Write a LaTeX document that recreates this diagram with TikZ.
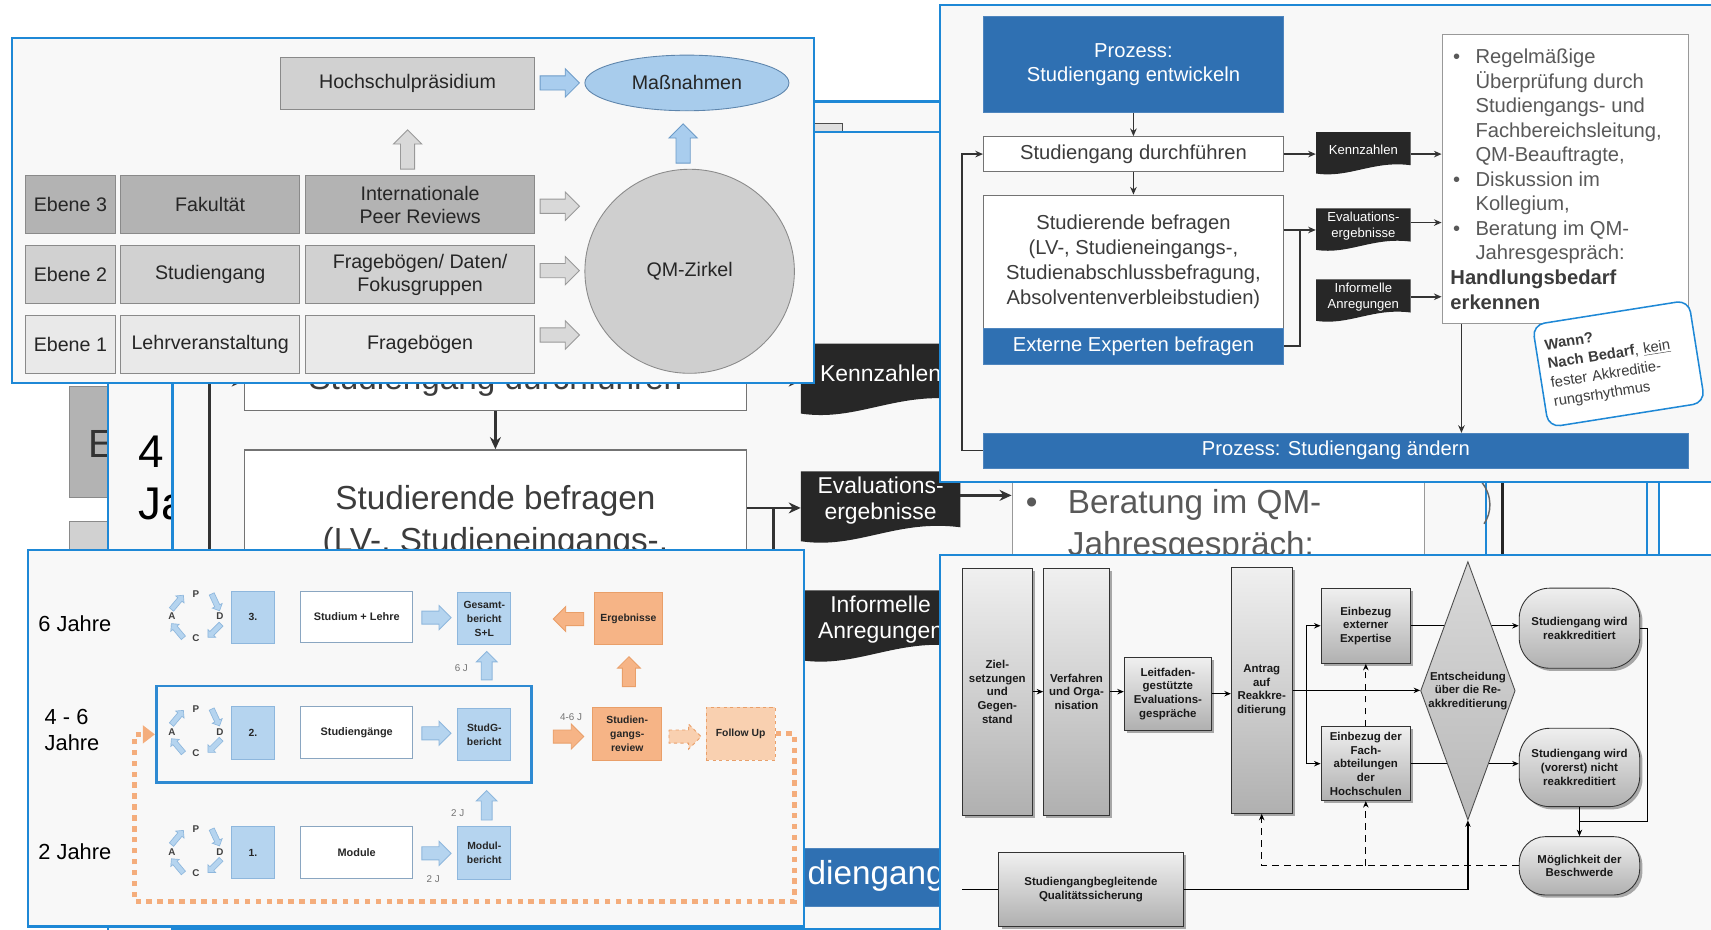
\documentclass[tikz,border=0pt]{standalone}
\usepackage{fontspec}
\setmainfont{Liberation Sans}
\usetikzlibrary{shapes.geometric,arrows.meta,calc,shadows}
\definecolor{framebl}{HTML}{1E88D6}
\definecolor{panelbg}{HTML}{F8F8F8}
\definecolor{gdark}{HTML}{B3B3B3}
\definecolor{gmid}{HTML}{D1D1D1}
\definecolor{glight}{HTML}{E9E9E9}
\definecolor{gborder}{HTML}{8A8A8A}
\definecolor{txtA}{HTML}{262626}
\definecolor{ellfill}{HTML}{A8CCEC}
\definecolor{ellbd}{HTML}{5E85AC}
\definecolor{abfill}{HTML}{A9CDEE}
\definecolor{abdraw}{HTML}{6C9BC8}
\definecolor{procbl}{HTML}{2F70B2}
\definecolor{tagc}{HTML}{272727}
\definecolor{txtB}{HTML}{3C3C3C}
\definecolor{txtL}{HTML}{595959}
\definecolor{lbfill}{HTML}{B5D4EF}
\definecolor{lbdraw}{HTML}{8EB7DD}
\definecolor{orfill}{HTML}{F6B486}
\definecolor{ordraw}{HTML}{E99F69}
\definecolor{orlight}{HTML}{F9D0B0}
\definecolor{ordot}{HTML}{F4AD7C}
\definecolor{rowframe}{HTML}{2E8AD2}
\newcommand{\myfs}[2]{\fontsize{#1}{#2}\selectfont}
% block arrow: style, cx, cy, angle, length, shaft width, head width
\newcommand{\mybarrow}[7]{%
  \begin{scope}[shift={({#2},{#3})},rotate=#4]
    \filldraw[#1] ({-(#5)/2},{-(#6)/2}) -- ({(#5)/2-(#7)/2},{-(#6)/2}) -- ({(#5)/2-(#7)/2},{-(#7)/2}) -- ({(#5)/2},0) -- ({(#5)/2-(#7)/2},{(#7)/2}) -- ({(#5)/2-(#7)/2},{(#6)/2}) -- ({-(#5)/2},{(#6)/2}) -- cycle;
  \end{scope}}
% document tag: name, x0, y0, w, h, font, text
\newcommand{\mytagbox}[7]{%
  \fill[tagc] (#2,#3) -- ({#2+#4},#3) -- ({#2+#4},{#3+0.8*#5}) .. controls ({#2+0.6*#4},{#3+0.68*#5}) and ({#2+0.35*#4},{#3+1.12*#5}) .. (#2,{#3+#5}) -- cycle;
  \node[tagtxt, font=#6, minimum width=#4, minimum height={0.84*#5}] (#1) at ({#2+#4/2},{#3+0.42*#5}) {#7};}
% PDCA cycle: name, cx, cy
\newcommand{\mypdca}[3]{%
  \node[pdcal] (#1p) at (#2,{#3-21}) {P};
  \node[pdcal] (#1d) at ({#2+22},#3) {D};
  \node[pdcal] (#1c) at (#2,{#3+20}) {C};
  \node[pdcal] (#1a) at ({#2-22},#3) {A};
  \mybarrow{pdarr}{#2-17}{#3-13}{50}{17}{5}{10}
  \mybarrow{pdarr}{#2+18}{#3-13}{-65}{17}{5}{10}
  \mybarrow{pdarr}{#2+17}{#3+13}{-135}{17}{5}{10}
  \mybarrow{pdarr}{#2-17}{#3+13}{130}{17}{5}{10}}
\tikzset{
 panel/.style={draw=framebl, line width=2pt, fill=panelbg},
 abox/.style={draw=gborder, line width=0.8pt, inner sep=0pt, align=center, text=txtA, font=\myfs{18}{21}},
 garrow/.style={fill=gray!30, draw=gray!80, line width=0.8pt},
 bluearr/.style={fill=abfill, draw=abdraw, line width=0.8pt},
 procbox/.style={fill=procbl, draw=procbl!85!white, line width=0.6pt, text=white, inner sep=0pt, align=center, font=\myfs{18.5}{22}},
 wbox/.style={fill=white, draw=black!55, line width=0.8pt, inner sep=0pt, align=center, text=txtB, font=\myfs{18.5}{22.9}},
 tagtxt/.style={inner sep=0pt, text=white, align=center},
 farr/.style={draw=black!80, line width=1.5pt, -{Stealth[length=7pt,width=6pt]}},
 fline/.style={draw=black!80, line width=1.5pt},
 bgwbox/.style={fill=white, draw=black!55, line width=1.3pt, inner sep=0pt, align=center, text=txtB, font=\myfs{30.5}{38.3}},
 bgtxt/.style={inner sep=0pt, text=txtB, font=\myfs{30.5}{38.3}},
 bgarr/.style={draw=black!80, line width=2.5pt, -{Stealth[length=11pt,width=10pt]}},
 bgline/.style={draw=black!80, line width=2.5pt},
 numbox/.style={fill=lbfill, draw=lbdraw, line width=0.8pt, inner sep=0pt, align=center, text=black!85, font=\bfseries\myfs{9.5}{12.7}},
 cwbox/.style={fill=white, draw=lbdraw!70!gray, line width=0.8pt, inner sep=0pt, align=center, text=black!85, font=\bfseries\myfs{10}{12}},
 orbox/.style={fill=orfill, draw=ordraw, line width=0.8pt, inner sep=0pt, align=center, text=black!85, font=\bfseries\myfs{9.5}{12.7}},
 lbarr/.style={fill=lbfill, draw=lbdraw, line width=0.8pt},
 orarr/.style={fill=orfill, draw=ordraw, line width=0.8pt},
 ordash/.style={fill=orlight, draw=ordraw, line width=0.8pt, dashed},
 pdarr/.style={fill=lbfill, draw=lbdraw, line width=0.6pt},
 pdcal/.style={inner sep=0pt, font=\bfseries\myfs{9}{10}, text=black!75},
 jlab/.style={inner sep=0pt, font=\myfs{20}{24.4}, text=black, align=left},
 smlab/.style={inner sep=0pt, font=\myfs{9}{10}, text=black!55},
 dotloop/.style={draw=ordot, line width=5pt, dash pattern=on 5pt off 5pt, -{Triangle[width=16pt,length=11pt]}},
 dbox/.style={draw=black!80, line width=0.8pt, top color=gray!12, bottom color=gray!62, inner sep=0pt, align=center, text=black!90, font=\bfseries\myfs{10.5}{12.5}, drop shadow={shadow xshift=2.5pt, shadow yshift=-2.5pt, fill=black!60, opacity=0.55}},
 darr/.style={draw=black, line width=1.1pt, -{Stealth[length=6pt,width=5pt]}},
 dline/.style={draw=black, line width=1.1pt},
 ddash/.style={draw=black, line width=1.1pt, dash pattern=on 6pt off 5pt, -{Stealth[length=6pt,width=5pt]}},
}
\begin{document}
\begin{tikzpicture}[x=1pt,y=-1pt]
\useasboundingbox (0,0) rectangle (1568,852);
\clip (0,0) rectangle (1568,852);
\fill[white] (0,0) rectangle (1568,852);

% ================= background collage layers =================
\node[draw=gborder, line width=1.2pt, fill=gdark, minimum width=60, minimum height=102, inner sep=0] (bgE) at (94,405) {};
\node[anchor=west, font=\myfs{36}{40}, text=black!80, inner sep=0] (bgEt) at (81,407) {E};
\node[draw=gborder, line width=1.2pt, fill=gmid, minimum width=60, minimum height=60, inner sep=0] (bgE2) at (94,508) {};
\fill[panelbg] (99,93) rectangle (1509,852);
\node[anchor=west, font=\myfs{42}{48}, inner sep=0] (bg4) at (127,414) {4};
\node[anchor=west, font=\myfs{42}{48}, inner sep=0] (bgJa) at (127,462) {Ja};
\node[draw=black!70, line width=1.2pt, fill=gray!25, minimum width=60, minimum height=30, inner sep=0] (bgcorner) at (742,128) {};
\fill[panelbg] (158,121) rectangle (1520,852);

\node[bgwbox, minimum width=460, minimum height=53.7] (bgdurch) at (454,349.2) {Studiengang durchführen};
\node[bgwbox, minimum width=460, minimum height=204.5] (bgbefr) at (454,514.5) {};
\node[bgtxt] (bgbefrt1) at (454,459) {Studierende befragen};
\node[bgtxt] (bgbefrt2) at (454,497.5) {(LV-, Studieneingangs-,};
\mytagbox{bgkenn}{734}{315}{146}{64}{\myfs{21}{24}}{Kennzahlen}
\mytagbox{bgeval}{734}{432}{146}{64}{\myfs{21}{24}}{Evaluations-\\ergebnisse}
\mytagbox{bginfo}{734}{541}{146}{64}{\myfs{21}{24}}{Informelle\\Anregungen}
\node[draw=gray!80, line width=1.2pt, fill=white, minimum width=378, minimum height=443.6, inner sep=0] (bghand) at (1116.6,386.8) {};
\node[anchor=west, font=\myfs{30.5}{36}, text=txtL, inner sep=0] (bgb1) at (940,463) {•};
\node[anchor=west, font=\myfs{30.5}{36}, text=txtL, inner sep=0] (bgb2) at (978.5,463) {Beratung im QM-};
\node[anchor=west, font=\myfs{30.5}{36}, text=txtL, inner sep=0] (bgb3) at (978.5,501) {Jahresgespräch:};
\node[procbox, minimum width=1081.4, minimum height=54] (bgaend) at (764.7,804) {};
\node[anchor=west, inner sep=0, text=white, font=\myfs{30.5}{36}] (bgaendt) at (740,803) {diengang};

\draw[bgarr] (bgdurch.south) -- (bgbefr.north);
\draw[bgarr] (bgdurch.east) -- (bgdurch.east -| bgkenn.west);
\coordinate (bgevin) at ([yshift=-6.6pt]bgeval.west);
\coordinate (bgevout) at ([yshift=4.9pt]bgeval.east);
\coordinate (bgbrk) at (684,644);
\draw[bgline] (bgevin -| bgbefr.east) -- ++(25,0);
\draw[bgarr] (bgbrk) -- ++(24.8,0) |- (bgevin);
\draw[bgarr] (bgkenn.east |- bgdurch.east) -- (bgdurch.east -| bghand.west);
\draw[bgarr] (bgevout) -- (bgevout -| bghand.west);
\draw[bgarr] (bginfo.east) -- (bginfo.east -| bghand.west);
\draw[bgarr] (bgaend.west) -- ++(-31.8,0) |- (bgdurch.west);

\draw[framebl, line width=2pt] (99,93) rectangle (1509,900);
\draw[framebl, line width=2pt] (158,121) rectangle (1520,851);
\draw[framebl, line width=1.5pt] (1362,430) -- (1362,520);
\draw[black!85, line width=2.5pt] (1377,430) -- (1377,520);
\draw[black!60, line width=1.3pt] (1358,442) .. controls (1368,455) and (1367,470) .. (1360,480);

% ================= Panel A =================
\draw[panel] (10.7,35) rectangle (745.7,350.7);
\node[abox, fill=gmid, minimum width=233, minimum height=47.5] (hoch) at (373.5,76.2) {Hochschulpräsidium};
\node[ellipse, draw=ellbd, fill=ellfill, line width=0.8pt, minimum width=187, minimum height=51, inner sep=0, font=\myfs{18}{21}, text=txtA] (mass) at (629.5,76) {Maßnahmen};
\mybarrow{bluearr}{513}{76}{0}{36}{13}{26}
\mybarrow{garrow}{373.5}{137}{90}{36}{13}{26}
\mybarrow{bluearr}{626}{131.5}{90}{36}{13}{26}
\node[abox, fill=gdark, minimum width=82.5, minimum height=53] (e3) at (64.5,187.5) {Ebene 3};
\node[abox, fill=gdark, minimum width=164, minimum height=53] (fak) at (192.6,187.5) {Fakultät};
\node[abox, fill=gdark, minimum width=210, minimum height=53] (ipr) at (385,187.5) {Internationale\\Peer Reviews};
\node[abox, fill=gmid, minimum width=82.5, minimum height=53] (e2) at (64.5,251.7) {Ebene 2};
\node[abox, fill=gmid, minimum width=164, minimum height=53] (stg) at (192.6,251.7) {Studiengang};
\node[abox, fill=gmid, minimum width=210, minimum height=53] (fdf) at (385,251.7) {Fragebögen/ Daten/\\Fokusgruppen};
\node[abox, fill=glight, minimum width=82.5, minimum height=53] (e1) at (64.5,315.8) {Ebene 1};
\node[abox, fill=glight, minimum width=164, minimum height=53] (lv) at (192.6,315.8) {Lehrveranstaltung};
\node[abox, fill=glight, minimum width=210, minimum height=53] (fb) at (385,315.8) {Fragebögen};
\mybarrow{garrow}{513}{189}{0}{36}{13}{26}
\mybarrow{garrow}{513}{248}{0}{36}{13}{26}
\mybarrow{garrow}{513}{307}{0}{36}{13}{26}
\node[ellipse, draw=gborder, fill=gray!38, line width=0.8pt, minimum width=192, minimum height=187, inner sep=0, font=\myfs{18}{21}, text=txtA] (qm) at (632,248.6) {QM-Zirkel};

% ================= Panel B =================
\draw[panel] (861.4,4.6) rectangle (1600,441.4);
\node[procbox, minimum width=275, minimum height=88] (entw) at (1038.7,59.2) {Prozess:\\Studiengang entwickeln};
\node[wbox, minimum width=275, minimum height=32.1] (durch) at (1038.7,141.2) {Studiengang durchführen};
\node[wbox, minimum width=275, minimum height=122.2] (befr) at (1038.7,239.8) {Studierende befragen\\(LV-, Studieneingangs-,\\Studienabschlussbefragung,\\Absolventenverbleibstudien)};
\node[procbox, minimum width=275, minimum height=32.7] (extb) at (1038.7,317.25) {Externe Experten befragen};
\mytagbox{kenn}{1206}{121}{86.8}{38}{\myfs{12}{14.5}}{Kennzahlen}
\mytagbox{evalb}{1206}{191}{86.8}{38}{\myfs{12}{14.5}}{Evaluations-\\ergebnisse}
\mytagbox{infob}{1206}{256}{86.8}{38}{\myfs{12}{14.5}}{Informelle\\Anregungen}
\node[draw=gray!80, line width=0.8pt, fill=white, minimum width=225.9, minimum height=265.1, inner sep=0] (hand) at (1434.45,163.75) {};
\node[anchor=north west, inner sep=0, font=\myfs{18.5}{22.5}, text=txtL] (handt) at (1329,42.3) {%
\begin{tabular}{@{\hspace{2.5pt}}p{20.5pt}@{}l@{}}
•&Regelmäßige\\
&Überprüfung durch\\
&Studiengangs- und\\
&Fachbereichsleitung,\\
&QM-Beauftragte,\\
•&Diskussion im\\
&Kollegium,\\
•&Beratung im QM-\\
&Jahresgespräch:\\
\multicolumn{2}{@{}l@{}}{\color{txtB}\bfseries Handlungsbedarf}\\
\multicolumn{2}{@{}l@{}}{\color{txtB}\bfseries erkennen}
\end{tabular}};
\node[procbox, minimum width=646.4, minimum height=32] (aend) at (1224.2,413) {Prozess: Studiengang ändern};

\draw[farr] (entw.south) -- (durch.north);
\draw[farr] (durch.south) -- (befr.north);
\draw[farr] (durch.east) -- (durch.east -| kenn.west);
\coordinate (evin) at ([yshift=-3.8pt]evalb.west);
\coordinate (evout) at ([yshift=3pt]evalb.east);
\draw[fline] (evin -| befr.east) -- ++(15,0);
\draw[farr] (extb.east) -- ++(14.7,0) |- (evin);
\draw[farr] (kenn.east |- durch.east) -- (durch.east -| hand.west);
\draw[farr] (evout) -- (evout -| hand.west);
\draw[farr] (infob.east) -- (infob.east -| hand.west);
\coordinate (hdown) at ([xshift=18.2pt]hand.south west);
\draw[farr] (hdown) -- (hdown |- aend.north);
\draw[farr] (aend.west) -- ++(-19,0) |- (durch.west);
\node[rotate=9, draw=framebl, line width=1.4pt, rounded corners=11pt, fill=white, minimum width=145, minimum height=95, text width=128, align=left, inner sep=6pt, font=\myfs{13.5}{17.5}, text=txtB] (wann) at (1483.3,333.4) {\textbf{Wann?}\\\textbf{Nach Bedarf}, \underline{kein}\\fester Akkreditie-\\rungsrhythmus};

% ================= Panel C =================
\draw[panel] (25.3,504) rectangle (737,849);
\node[jlab] (j6) at (68.6,571.3) {6 Jahre};
\node[jlab, anchor=west] (j46) at (40.8,669) {4 - 6\\Jahre};
\node[jlab] (j2) at (68.6,780.5) {2 Jahre};

\coordinate (lpA) at (728,826.3);
\coordinate (lpB) at (123.5,826.3);

\mypdca{pc3}{179.6}{565}
\mypdca{pc2}{179.6}{670.5}
\mypdca{pc1}{179.6}{780.5}

\node[numbox, minimum width=38.8, minimum height=48] (n3) at (231.8,565.6) {3.};
\node[numbox, minimum width=38.8, minimum height=48] (n2) at (231.8,671.5) {2.};
\node[numbox, minimum width=38.8, minimum height=48] (n1) at (231.8,781.3) {1.};
\node[cwbox, minimum width=102.8, minimum height=47.5] (sl) at (326.9,565.3) {Studium + Lehre};
\node[cwbox, minimum width=102.8, minimum height=47.5] (sg) at (326.9,671.5) {Studiengänge};
\node[cwbox, minimum width=102.8, minimum height=47.5] (md) at (326.9,781.3) {Module};
\mybarrow{lbarr}{400}{566}{0}{26.7}{12}{22}
\mybarrow{lbarr}{400}{672}{0}{26.7}{12}{22}
\mybarrow{lbarr}{400}{782}{0}{26.7}{12}{22}
\node[numbox, minimum width=48.5, minimum height=48] (gb) at (443.8,567) {Gesamt-\\bericht\\S+L};
\node[numbox, minimum width=48.5, minimum height=48] (sgb) at (443.8,673) {StudG-\\bericht};
\node[numbox, minimum width=48.5, minimum height=48] (mdb) at (443.8,781.8) {Modul-\\bericht};
\mybarrow{lbarr}{446}{610}{90}{26}{10}{19}
\mybarrow{lbarr}{446}{738}{90}{27}{10}{19}
\node[smlab] (l6j) at (422.8,612.5) {6 J};
\node[smlab] (l2ja) at (419.5,744.8) {2 J};
\node[smlab] (l2jb) at (397,806) {2 J};

\node[orbox, minimum width=63.1, minimum height=48] (erg) at (575.9,567) {Ergebnisse};
\node[orbox, minimum width=63.5, minimum height=48.5] (rev) at (574.8,672.3) {Studien-\\gangs-\\review};
\node[orbox, fill=orlight, dashed, minimum width=63.3, minimum height=48.5] (fu) at (678.7,672.3) {Follow Up};
\mybarrow{orarr}{521}{567.3}{180}{28}{12}{23}
\mybarrow{orarr}{576.4}{615.5}{90}{27.5}{12}{21}
\mybarrow{orarr}{521}{675}{0}{28}{12}{23}
\node[smlab] (l46) at (523.3,656.8) {4-6 J};
\mybarrow{ordash}{627.8}{675}{0}{29.5}{12}{23}

\node[draw=rowframe, line width=2.5pt, minimum width=343.6, minimum height=88.6, inner sep=0] (r2f) at (315,673) {};
\draw[dotloop] (fu.east) -| (lpA) -- (lpB) |- (r2f.west);

% ================= Panel D =================
\draw[panel] (861.4,508.6) rectangle (1600,880);
\node[dbox, minimum width=63.9, minimum height=226.1] (ziel) at (913.95,633.85) {Ziel-\\setzungen\\und\\Gegen-\\stand};
\node[dbox, minimum width=60.2, minimum height=226.1] (verf) at (986.5,633.85) {Verfahren\\und Orga-\\nisation};
\node[dbox, minimum width=79.9, minimum height=66.6] (leit) at (1070.25,635.7) {Leitfaden-\\gestützte\\Evaluations-\\gespräche};
\node[dbox, minimum width=55.7, minimum height=225.3] (antr) at (1156.25,632.65) {Antrag\\auf\\Reakkre-\\ditierung};
\node[dbox, minimum width=82.1, minimum height=68.9] (ext2) at (1251.65,573.45) {Einbezug\\externer\\Expertise};
\node[dbox, minimum width=82.1, minimum height=67.7] (fach) at (1251.65,699.85) {Einbezug der\\Fach-\\abteilungen\\der\\Hochschulen};
\node[dbox, rounded corners=28pt, minimum width=110.5, minimum height=73.4] (reak) at (1447.45,575.7) {Studiengang wird\\reakkreditiert};
\node[dbox, rounded corners=28pt, minimum width=110.5, minimum height=71.8] (nreak) at (1447.45,703.3) {Studiengang wird\\(vorerst) nicht\\reakkreditiert};
\node[dbox, rounded corners=24pt, minimum width=110.5, minimum height=53.5] (besch) at (1447.45,793.45) {Möglichkeit der\\Beschwerde};
\node[dbox, minimum width=168.9, minimum height=67.2] (qs) at (999.75,815) {Studiengangbegleitende\\Qualitätssicherung};

\draw[darr] (ext2.east) -- (ext2.east -| reak.west);
\draw[darr] (fach.east) -- (fach.east -| nreak.west);

\node[diamond, draw=black!70, line width=0.8pt, top color=gray!30, bottom color=gray!55, minimum width=86.7, minimum height=236.7, inner sep=0] (dec) at (1345.2,633) {};
\node[inner sep=0, align=center, font=\bfseries\myfs{10.5}{12.5}, text=black!90] (dect) at (1345.2,633) {Entscheidung\\über die Re-\\akkreditierung};

\draw[darr] (ziel.east |- verf.west) -- (verf.west);
\draw[darr] (verf.east) -- (verf.east -| leit.west);
\draw[darr] (leit.east) -- (leit.east -| antr.west);
\draw[darr] (antr.east) -- (antr.east -| dec.west);
\coordinate (br) at ([xshift=12.8pt]antr.east);
\draw[darr] (br) |- (ext2.west);
\draw[darr] (br) |- (fach.west);
\draw[ddash] (fach.north) -- (ext2.south);
\draw[ddash] (besch.west) -| (antr.south);
\draw[ddash] (fach.south |- besch.west) -- (fach.south);
\coordinate (qsin) at (882,815);
\draw[dline] (qsin) -- (qs.west);
\draw[darr] (qs.east) -| (dec.south);
\coordinate (mj) at (1447.45,753);
\draw[darr] (reak.east) -- ++(7,0) |- (mj) -- (besch.north);
\draw[dline] (nreak.south) -- (mj);
\end{tikzpicture}
\end{document}
